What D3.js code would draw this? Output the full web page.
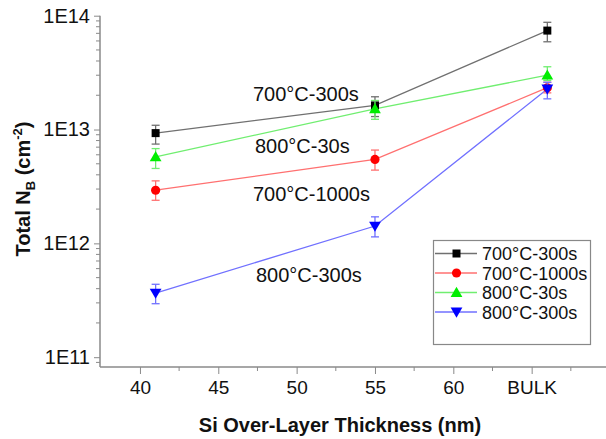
<!DOCTYPE html>
<html><head><meta charset="utf-8">
<script src="https://cdn.jsdelivr.net/npm/d3@7"></script>
<style>body{margin:0;background:#fff}svg{display:block;font-family:"Liberation Sans",Arial,sans-serif}</style>
</head><body><svg id="c" width="606" height="439"></svg>
<script>
const xPositions = [41, 55, 66];
const xTickValues = [40, 45, 50, 55, 60, 65];
const xTickLabels = ["40", "45", "50", "55", "60", "BULK"];
const yTickValues = [1e11, 1e12, 1e13, 1e14];
const yTickLabels = ["1E11", "1E12", "1E13", "1E14"];
const seriesNames = ["700°C-300s", "700°C-1000s", "800°C-30s", "800°C-300s"];
const s700_300 = [9.3e12, 1.63e13, 7.4e13];
const s700_300_lo = [7.45e12, 1.3e13, 5.9e13];
const s700_300_hi = [1.09e13, 1.94e13, 8.75e13];
const s700_1000 = [2.93e12, 5.46e12, 2.33e13];
const s700_1000_lo = [2.39e12, 4.4e12, 2.1e13];
const s700_1000_hi = [3.54e12, 6.6e12, 2.6e13];
const s800_30 = [5.75e12, 1.52e13, 3.0e13];
const s800_30_lo = [4.55e12, 1.23e13, 2.7e13];
const s800_30_hi = [6.8e12, 1.8e13, 3.56e13];
const s800_300 = [3.66e11, 1.42e12, 2.27e13];
const s800_300_lo = [2.95e11, 1.14e12, 1.86e13];
const s800_300_hi = [4.37e11, 1.71e12, 2.6e13];
const annotations = ["700°C-300s", "800°C-30s", "700°C-1000s", "800°C-300s"];

const series = [
  {name: seriesNames[0], v: s700_300, lo: s700_300_lo, hi: s700_300_hi, line: "#707070", mark: "#000", shape: d3.symbolSquare, size: 64},
  {name: seriesNames[1], v: s700_1000, lo: s700_1000_lo, hi: s700_1000_hi, line: "#ff7070", mark: "#ff0000", shape: d3.symbolCircle, size: 66},
  {name: seriesNames[2], v: s800_30, lo: s800_30_lo, hi: s800_30_hi, line: "#70ee70", mark: "#00ee00", shape: d3.symbolTriangle, size: 60},
  {name: seriesNames[3], v: s800_300, lo: s800_300_lo, hi: s800_300_hi, line: "#7070ff", mark: "#0000ff", shape: d3.symbolTriangle, size: 60, flip: true}
];

const svg = d3.select("#c");
const x = d3.scaleLinear().domain([37.45, 70]).range([100, 610]);
const y = d3.scaleLog().domain([8.2e10, 1e14]).range([367, 15.7]);
const axisColor = "#8a8a8a";

// Y axis
const yAxis = d3.axisLeft(y).tickValues(yTickValues).tickFormat((d,i)=>yTickLabels[i]).tickSize(6).tickPadding(4);
const gy = svg.append("g").attr("transform","translate(100,0)").call(yAxis);
const minorY = [];
for (let e = 10; e <= 13; e++) for (let m = 2; m <= 9; m++) { const v = m * Math.pow(10, e); if (v >= 8.2e10 && v < 1e14) minorY.push(v); }
gy.selectAll(".minor").data(minorY).enter().append("line").attr("class","minor")
  .attr("x1",-4).attr("x2",0).attr("y1",d=>y(d)).attr("y2",d=>y(d)).attr("stroke",axisColor);
// X axis
const xAxis = d3.axisBottom(x).tickValues(xTickValues).tickFormat((d,i)=>xTickLabels[i]).tickSize(7).tickPadding(7);
const gx = svg.append("g").attr("transform","translate(0,367)").call(xAxis);
const minorX = [42.5, 47.5, 52.5, 57.5, 62.5, 67.5];
gx.selectAll(".minor").data(minorX).enter().append("line").attr("class","minor")
  .attr("x1",d=>x(d)).attr("x2",d=>x(d)).attr("y1",0).attr("y2",4).attr("stroke",axisColor);
[gx, gy].forEach(g => {
  g.select(".domain").attr("stroke", axisColor).attr("stroke-width",1.5);
  g.selectAll(".tick line").attr("stroke", axisColor);
  g.selectAll("text").attr("fill","#111").attr("font-family","Liberation Sans, Arial, sans-serif");
});
gy.selectAll("text").attr("font-size", 20);
gx.selectAll("text").attr("font-size", 19);
gy.select(".domain").attr("d", `M0,${y(8.2e10)}V${y(1e14)}`);
gx.select(".domain").attr("d", `M${x(37.45)},0H${x(70)}`);

// Series
const line = d3.line().x((d,i)=>x(xPositions[i])).y(d=>y(d));
series.forEach(s => {
  svg.append("path").datum(s.v).attr("d", line).attr("fill","none").attr("stroke", s.line).attr("stroke-width",1.3);
});
series.forEach(s => {
  const g = svg.append("g");
  s.v.forEach((v,i) => {
    const cx = x(xPositions[i]);
    g.append("line").attr("x1",cx).attr("x2",cx).attr("y1",y(s.lo[i])).attr("y2",y(s.hi[i])).attr("stroke",s.line).attr("stroke-width",1.3);
    [s.lo[i], s.hi[i]].forEach(e => g.append("line").attr("x1",cx-4).attr("x2",cx+4).attr("y1",y(e)).attr("y2",y(e)).attr("stroke",s.line).attr("stroke-width",1.3));
  });
  s.v.forEach((v,i) => {
    g.append("path").attr("d", d3.symbol().type(s.shape).size(s.size)())
      .attr("transform", `translate(${x(xPositions[i])},${y(v) + (s.shape===d3.symbolTriangle ? (s.flip?-1:1) : 0)})` + (s.flip ? " rotate(180)" : ""))
      .attr("fill", s.mark);
  });
});

// Annotations
const annPos = [[253, 100.7], [255, 153.3], [253, 200.7], [256, 281.7]];
annotations.forEach((t,i) => {
  svg.append("text").attr("x", annPos[i][0]).attr("y", annPos[i][1]).attr("font-size",20).attr("fill","#111").text(t);
});

// Legend
const lg = svg.append("g");
lg.append("rect").attr("x",433.5).attr("y",240.5).attr("width",157).attr("height",104).attr("fill","#fff").attr("stroke","#888").attr("stroke-width",1.2);
series.forEach((s,i) => {
  const cy = 253.5 + i*19.5;
  lg.append("line").attr("x1",435).attr("x2",477).attr("y1",cy).attr("y2",cy).attr("stroke",s.line).attr("stroke-width",1.3);
  lg.append("path").attr("d", d3.symbol().type(s.shape).size(s.size)())
    .attr("transform", `translate(456.5,${cy + (s.shape===d3.symbolTriangle ? (s.flip?-1:1) : 0)})` + (s.flip ? " rotate(180)" : ""))
    .attr("fill", s.mark);
  lg.append("text").attr("x",482).attr("y",cy+6.5).attr("font-size",18).attr("fill","#111").text(s.name);
});

// Axis titles
svg.append("text").attr("x",340).attr("y",431.5).attr("text-anchor","middle").attr("font-size",20).attr("font-weight","bold").attr("fill","#111")
  .text("Si Over-Layer Thickness (nm)");
const yt = svg.append("text").attr("transform","translate(30,189) rotate(-90)").attr("text-anchor","middle").attr("font-size",20).attr("font-weight","bold").attr("fill","#111");
yt.append("tspan").text("Total N");
yt.append("tspan").attr("font-size",13).attr("dy",5).text("B");
yt.append("tspan").attr("dy",-5).text(" (cm");
yt.append("tspan").attr("font-size",13).attr("dy",-8).text("-2");
yt.append("tspan").attr("dy",8).text(")");
</script></body></html>
